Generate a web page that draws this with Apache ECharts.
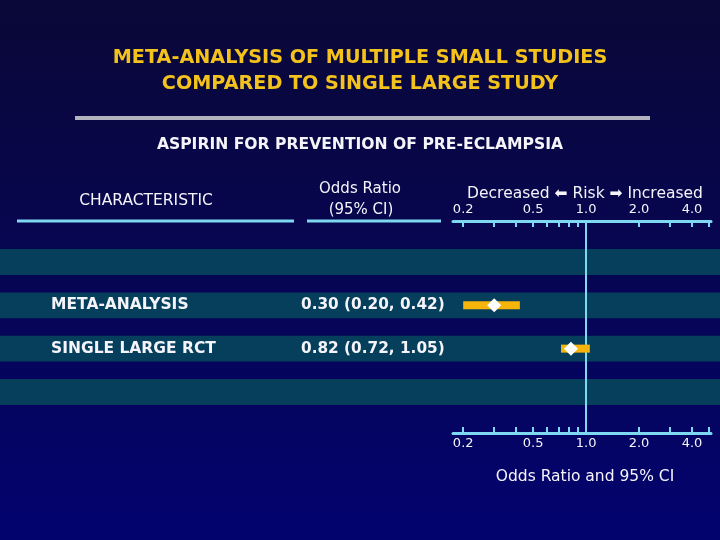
<!DOCTYPE html>
<html>
<head>
<meta charset="utf-8">
<script src="https://cdn.jsdelivr.net/npm/echarts@6/dist/echarts.min.js"></script>
<style>
html,body{margin:0;padding:0;background:#07063f;}
#c{width:720px;height:540px;}
</style>
</head>
<body>
<div id="c"></div>
<script>
// ---- data ----
const titleLines = ['META-ANALYSIS OF MULTIPLE SMALL STUDIES', 'COMPARED TO SINGLE LARGE STUDY'];
const subtitle = 'ASPIRIN FOR PREVENTION OF PRE-ECLAMPSIA';
const studies = ['META-ANALYSIS', 'SINGLE LARGE RCT'];
const studyRows = [2, 3];
const oddsRatio = [0.30, 0.82];
const ciLow = [0.20, 0.72];
const ciHigh = [0.42, 1.05];
const orText = ['0.30 (0.20, 0.42)', '0.82 (0.72, 1.05)'];
const bandRows = [1, 2, 3, 4];
const tickValues = [0.2, 0.3, 0.4, 0.5, 0.6, 0.7, 0.8, 0.9, 1.0, 2.0, 3.0, 4.0, 5.0];
const labelValues = [0.2, 0.5, 1.0, 2.0, 4.0];
const labelTexts = ['0.2', '0.5', '1.0', '2.0', '4.0'];
const axisRange = [0.175, 5.13];
const refValue = 1.0;

// ---- styles ----
const FONT = 'DejaVu Sans';
const CYAN = '#7fd8f2';
const WHITE = '#f4f4fa';
const GOLD = '#f3c21c';
const BAR = '#f7b50c';
const BAND = '#063f5c';

const lg = v => Math.log10(v);
function fmt(v) {
  for (let i = 0; i < labelValues.length; i++) {
    if (Math.abs(lg(labelValues[i]) - v) < 1e-6) return labelTexts[i];
  }
  return '';
}

const chart = echarts.init(document.getElementById('c'), null, {renderer: 'canvas'});

const axisCommon = {
  type: 'value',
  gridIndex: 1,
  min: lg(axisRange[0]),
  max: lg(axisRange[1]),
  splitLine: {show: false},
  axisLine: {show: true, lineStyle: {color: CYAN, width: 3}},
  axisTick: {show: true, inside: true, length: 6, lineStyle: {color: CYAN, width: 2},
             customValues: tickValues.map(lg)},
  axisLabel: {color: WHITE, fontFamily: FONT, fontSize: 13,
              customValues: labelValues.map(lg), formatter: fmt}
};

const option = {
  backgroundColor: {
    type: 'linear', x: 0, y: 0, x2: 0, y2: 1,
    colorStops: [{offset: 0, color: '#0a0837'}, {offset: 1, color: '#03036f'}]
  },
  title: [
    {
      text: titleLines[0], left: 'center', top: 49, padding: 0,
      textStyle: {color: GOLD, fontFamily: FONT, fontSize: 19.2, fontWeight: 'bold'}
    },
    {
      text: titleLines[1], left: 'center', top: 75, padding: 0,
      textStyle: {color: GOLD, fontFamily: FONT, fontSize: 19.2, fontWeight: 'bold'}
    },
    {
      text: subtitle, left: 'center', top: 137, padding: 0,
      textStyle: {color: WHITE, fontFamily: FONT, fontSize: 15.6, fontWeight: 'bold'}
    }
  ],
  graphic: [
    {type: 'line', shape: {x1: 75, y1: 118, x2: 650, y2: 118}, style: {stroke: '#b3b3bf', lineWidth: 4}},
    {type: 'line', shape: {x1: 17, y1: 221, x2: 294, y2: 221}, style: {stroke: CYAN, lineWidth: 3}},
    {type: 'line', shape: {x1: 307, y1: 221, x2: 441, y2: 221}, style: {stroke: CYAN, lineWidth: 3}},
    {type: 'text', x: 146, y: 201, style: {text: 'CHARACTERISTIC', fill: WHITE, font: '15.5px "DejaVu Sans"', textAlign: 'center', textVerticalAlign: 'middle'}},
    {type: 'text', x: 360, y: 189, style: {text: 'Odds Ratio', fill: WHITE, font: '15px "DejaVu Sans"', textAlign: 'center', textVerticalAlign: 'middle'}},
    {type: 'text', x: 361, y: 210, style: {text: '(95% CI)', fill: WHITE, font: '15px "DejaVu Sans"', textAlign: 'center', textVerticalAlign: 'middle'}}
  ],
  grid: [
    {left: 0, right: 0, top: 221, height: 212},
    {left: 453, width: 258, top: 221, height: 212}
  ],
  xAxis: [
    {type: 'value', gridIndex: 0, min: 0, max: 720, show: false},
    Object.assign({}, axisCommon, {
      position: 'top',
      axisLabel: Object.assign({}, axisCommon.axisLabel, {margin: 5}),
      name: 'Decreased \u2B05 Risk \u27A1 Increased',
      nameLocation: 'middle', nameGap: 19,
      nameTextStyle: {color: WHITE, fontFamily: FONT, fontSize: 15.5, padding: [0, 0, 0, 6]}
    }),
    Object.assign({}, axisCommon, {
      position: 'bottom',
      axisLabel: Object.assign({}, axisCommon.axisLabel, {margin: 4}),
      name: 'Odds Ratio and 95% CI',
      nameLocation: 'middle', nameGap: 36,
      nameTextStyle: {color: WHITE, fontFamily: FONT, fontSize: 15.5, padding: [0, 0, 0, 6]}
    })
  ],
  yAxis: [
    {type: 'value', gridIndex: 0, min: 0.05, max: 4.95, inverse: true, show: false},
    {type: 'value', gridIndex: 1, min: 0.05, max: 4.95, inverse: true, show: false}
  ],
  series: [
    {
      type: 'custom',
      xAxisIndex: 0, yAxisIndex: 0,
      silent: true,
      z: 3,
      data: studies.map((s, i) => [i, studyRows[i]]),
      renderItem: function (params, api) {
        const i = api.value(0);
        const row = api.value(1);
        const p1 = api.coord([51, row]);
        const p2 = api.coord([301, row]);
        return {
          type: 'group',
          children: [
            {type: 'text', x: p1[0], y: p1[1], style: {text: studies[i], fill: WHITE, font: 'bold 15.5px "DejaVu Sans"', textAlign: 'left', textVerticalAlign: 'middle'}},
            {type: 'text', x: p2[0], y: p2[1], style: {text: orText[i], fill: WHITE, font: 'bold 15.3px "DejaVu Sans"', textAlign: 'left', textVerticalAlign: 'middle'}}
          ]
        };
      },
      markArea: {
        silent: true,
        itemStyle: {color: BAND},
        data: bandRows.map(r => [{yAxis: r - 0.3}, {yAxis: r + 0.3}])
      }
    },
    {
      type: 'custom',
      xAxisIndex: 1, yAxisIndex: 1,
      silent: true,
      z: 5,
      data: studies.map((s, i) => [lg(ciLow[i]), lg(ciHigh[i]), lg(oddsRatio[i]), studyRows[i]]),
      renderItem: function (params, api) {
        const row = api.value(3);
        const lo = api.coord([api.value(0), row]);
        const hi = api.coord([api.value(1), row]);
        const c = api.coord([api.value(2), row]);
        const d = 7;
        return {
          type: 'group',
          children: [
            {type: 'rect', shape: {x: lo[0], y: lo[1] - 4, width: hi[0] - lo[0], height: 8}, style: {fill: BAR}},
            {type: 'polygon', shape: {points: [[c[0] - d, c[1]], [c[0], c[1] - d], [c[0] + d, c[1]], [c[0], c[1] + d]]}, style: {fill: '#ffffff'}}
          ]
        };
      },
      markLine: {
        silent: true,
        symbol: 'none',
        label: {show: false},
        lineStyle: {color: CYAN, width: 2, type: 'solid'},
        data: [{xAxis: lg(refValue)}]
      }
    }
  ]
};
chart.setOption(option);
</script>
</body>
</html>
